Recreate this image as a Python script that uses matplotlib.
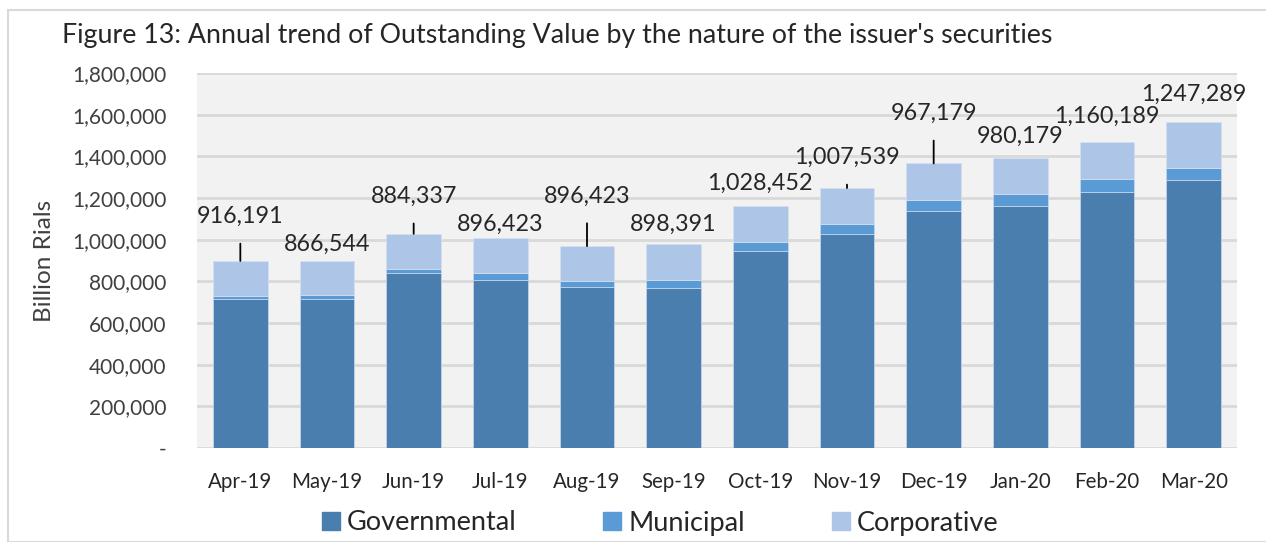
import numpy as np
import matplotlib
matplotlib.use("Agg")
import matplotlib.pyplot as plt
from matplotlib.patches import Rectangle, Patch
from matplotlib.ticker import FuncFormatter

plt.rcParams['font.family'] = ['Lato', 'DejaVu Sans']

months = ["Apr-19", "May-19", "Jun-19", "Jul-19", "Aug-19", "Sep-19",
          "Oct-19", "Nov-19", "Dec-19", "Jan-20", "Feb-20", "Mar-20"]
governmental = [716000, 716000, 841000, 807000, 771000, 766000,
                944000, 1026000, 1140000, 1162000, 1229000, 1285000]
municipal = [13000, 18000, 18000, 33000, 32000, 41000,
             44000, 47000, 52000, 56000, 64000, 61000]
corporative = [169000, 164000, 169000, 169000, 166000, 173000,
               174000, 175000, 174000, 172000, 177000, 218000]
label_values = ["916,191", "866,544", "884,337", "896,423", "896,423", "898,391",
                "1,028,452", "1,007,539", "967,179", "980,179", "1,160,189", "1,247,289"]

# label placement (points above bar top) and which ones get a leader line
label_offsets = [32, 12, 27, 10, 36, 14, 16, 22, 36, 16, 18, 20]
leaders = [True, False, True, False, True, False, False, True, True, False, False, False]

c_gov = "#4a7eaf"
c_mun = "#5b9bd5"
c_corp = "#adc5e6"

fig = plt.figure(figsize=(12.66, 5.42), dpi=100)
ax = fig.add_axes([197/1266, 94/542, 1040/1266, 375/542])
ax.set_facecolor("#f2f2f2")

x = np.arange(len(months))
gov = np.array(governmental)
mun = np.array(municipal)
corp = np.array(corporative)
w = 0.63
ax.bar(x, gov, w, color=c_gov, edgecolor="#c9d9ec", linewidth=0.5, zorder=3)
ax.bar(x, mun, w, bottom=gov, color=c_mun, edgecolor="#c9d9ec", linewidth=0.5, zorder=3)
ax.bar(x, corp, w, bottom=gov + mun, color=c_corp, edgecolor="#d6e2f1", linewidth=0.5, zorder=3)

totals = gov + mun + corp
for i in range(len(months)):
    if leaders[i]:
        ax.annotate(label_values[i], xy=(x[i], totals[i]),
                    xytext=(0, label_offsets[i]), textcoords="offset points",
                    ha="center", va="center", fontsize=16.8, color="#262626",
                    arrowprops=dict(arrowstyle="-", color="black", lw=1.3,
                                    shrinkA=10, shrinkB=0))
    else:
        ax.annotate(label_values[i], xy=(x[i], totals[i]),
                    xytext=(0, label_offsets[i]), textcoords="offset points",
                    ha="center", va="center", fontsize=16.8, color="#262626")

ax.set_xlim(-0.5, 11.5)
ax.set_ylim(0, 1800000)
ax.set_yticks(np.arange(0, 1800001, 200000))
ax.yaxis.set_major_formatter(FuncFormatter(lambda v, p: "-" if v == 0 else f"{int(v):,}"))
ax.set_xticks(x)
ax.set_xticklabels(months)
ax.tick_params(axis="y", length=0, labelsize=15, colors="#404040", pad=22)
ax.tick_params(axis="x", length=0, labelsize=14.8, colors="#262626", pad=17)
for lab in ax.get_yticklabels():
    lab.set_horizontalalignment("right")
ax.grid(axis="y", color="#d9d9d9", linewidth=2, zorder=0)
for s in ax.spines.values():
    s.set_visible(False)
ax.set_ylabel("Billion Rials", fontsize=17.5, color="#404040", labelpad=12)

fig.text(62/1266, 1 - 36/542, "Figure 13: Annual trend of Outstanding Value by the nature of the issuer's securities",
         fontsize=19.3, color="#262626", va="center", ha="left")

handles = [Patch(color=c_gov), Patch(color=c_mun), Patch(color=c_corp)]
fig.legend(handles, ["Governmental", "Municipal", "Corporative"], loc="center",
           bbox_to_anchor=(660/1266, 1 - 523/542), ncol=3, frameon=False,
           fontsize=19.5, handlelength=0.67, handleheight=0.67, columnspacing=3.2,
           handletextpad=0.25, labelcolor="#262626")

fig.patches.append(Rectangle((8/1266, 0), 1.2, 1 - 10/542, transform=fig.transFigure,
                             fill=False, edgecolor="#d9d9d9", linewidth=1.5))

fig.savefig("out.png", dpi=100, facecolor="white")
